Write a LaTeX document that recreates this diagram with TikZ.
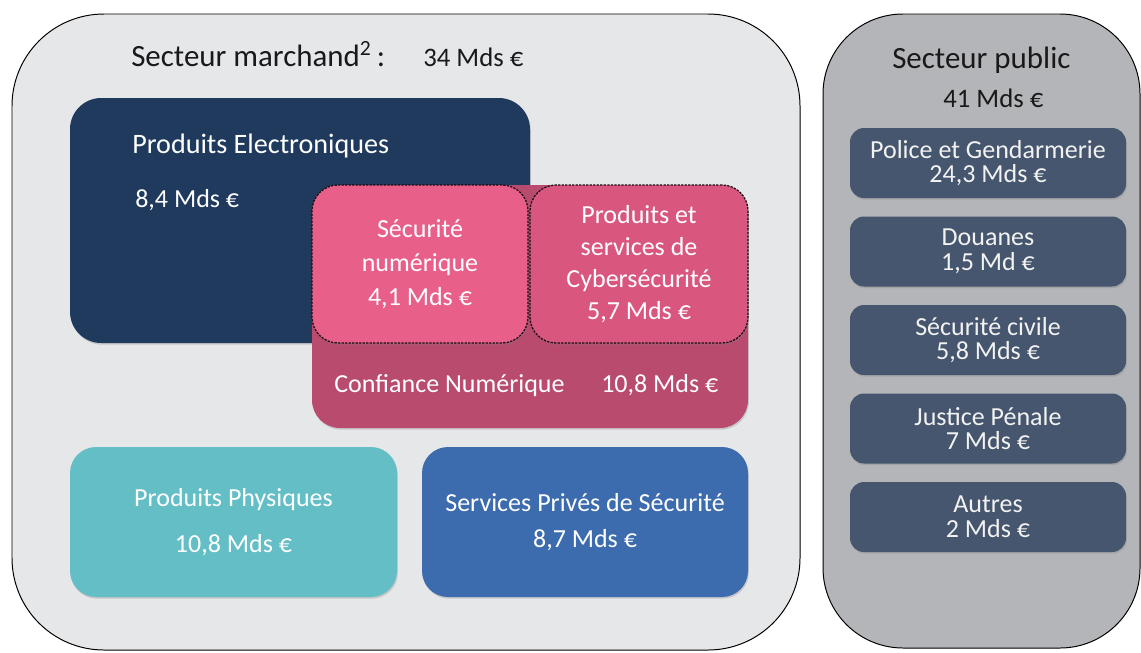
\documentclass[tikz,border=0pt]{standalone}
\usepackage{fontspec}
\setmainfont{Carlito}
\usetikzlibrary{shadows}

\definecolor{fondmarch}{HTML}{E6E7E9}
\definecolor{fondpub}{HTML}{B4B5B9}
\definecolor{marine}{HTML}{203A5E}
\definecolor{mauve}{HTML}{B94B6F}
\definecolor{rosea}{HTML}{E8608A}
\definecolor{roseb}{HTML}{D9577F}
\definecolor{turquoise}{HTML}{64BEC6}
\definecolor{bleu}{HTML}{3C6BAE}
\definecolor{ardoise}{HTML}{46566E}

\def\pxu{0.025cm}

\tikzset{
	panneau/.style = {draw = black, line width = 0.7pt},
	ombre/.style = {drop shadow = {opacity = 0.3, shadow xshift = 0.6pt, shadow yshift = -1.2pt}},
	bloc/.style = {rectangle, rounded corners = 0.65cm, inner sep = 0pt, align = center,
		text = white, font = \fontsize{18.5}{24}\selectfont, ombre},
	pointille/.style = {draw = black!85!mauve, line width = 0.9pt, dash pattern = on 1.6pt off 0.9pt},
	etat/.style = {rectangle, rounded corners = 0.35cm, fill = ardoise, align = center,
		text = white!95!black, font = \fontsize{18.5}{17.5}\selectfont,
		minimum width = 276*\pxu, minimum height = 70*\pxu, ombre},
	grand/.style = {font = \fontsize{22}{26}\selectfont, text = black!90},
	moyen/.style = {font = \fontsize{19}{23}\selectfont, text = black!90},
}

\begin{document}
\begin{tikzpicture}[x = \pxu, y = -\pxu]
	\useasboundingbox (0,0) rectangle (1141,652);
	\fill[white] (0,0) rectangle (1141,652);

	% les deux panneaux
	\draw[panneau, fill = fondmarch, rounded corners = 2.3cm] (12,14) rectangle (800,650);
	\draw[panneau, fill = fondpub, rounded corners = 2cm] (823,14) rectangle (1140,648);

	\node[grand, anchor = base west, inner sep = 0pt] (marchT) at (131,66) {Secteur marchand\textsuperscript{2}\,:};
	\node[moyen, anchor = base west, inner sep = 0pt] (marchV) at (423,66) {34 Mds €};

	% secteur marchand
	\node[bloc, fill = marine, rounded corners = 0.78cm,
		minimum width = 460*\pxu, minimum height = 245*\pxu] (elec) at (300,220.5) {};
	\node[anchor = base west, inner sep = 0pt, text = white, font = \fontsize{20}{24}\selectfont]
		(elecT) at (132,153) {Produits Electroniques};
	\node[anchor = base west, inner sep = 0pt, text = white, font = \fontsize{18.5}{24}\selectfont]
		(elecV) at (135,207) {8,4 Mds €};

	\node[bloc, fill = mauve, rounded corners = 0.7cm,
		minimum width = 436*\pxu, minimum height = 243*\pxu] (conf) at (530,306.5) {};
	\node[anchor = base west, inner sep = 0pt, text = white, font = \fontsize{18.5}{24}\selectfont]
		(confT) at (334,392) {Confiance Numérique};
	\node[anchor = base west, inner sep = 0pt, text = white, font = \fontsize{18.5}{24}\selectfont]
		(confV) at (601,392) {10,8 Mds €};

	\node[bloc, pointille, fill = rosea,
		minimum width = 216*\pxu, minimum height = 158*\pxu] (secnum) at (420,264)
		{Sécurité\\numérique\\4,1 Mds €};
	\node[bloc, pointille, fill = roseb, font = \fontsize{18.5}{22.8}\selectfont,
		minimum width = 218*\pxu, minimum height = 158*\pxu] (cyber) at (639,264)
		{Produits et\\services de\\Cybersécurité\\5,7 Mds €};

	\node[bloc, fill = turquoise, font = \fontsize{18.5}{33}\selectfont,
		minimum width = 327*\pxu, minimum height = 150*\pxu] (phys) at (233.5,522)
		{Produits Physiques\\10,8 Mds €};
	\node[bloc, fill = bleu, font = \fontsize{18.5}{26}\selectfont,
		minimum width = 326*\pxu, minimum height = 150*\pxu] (priv) at (585,522)
		{Services Privés de Sécurité\\8,7 Mds €};

	% secteur public
	\node[grand, anchor = base west, inner sep = 0pt] (pubT) at (892,68) {Secteur public};
	\node[moyen, anchor = base west, inner sep = 0pt] (pubV) at (943,107) {41 Mds €};

	\foreach \nom/\txt [count = \i from 0] in {police/{Police et Gendarmerie\\24,3 Mds €},
			douane/{Douanes\\1,5 Md €}, civile/{Sécurité civile\\5,8 Mds €},
			justice/{Justice Pénale\\7 Mds €}, autre/{Autres\\2 Mds €}}
		\node[etat] (\nom) at (988,163+88.5*\i) {\txt};
\end{tikzpicture}
\end{document}
